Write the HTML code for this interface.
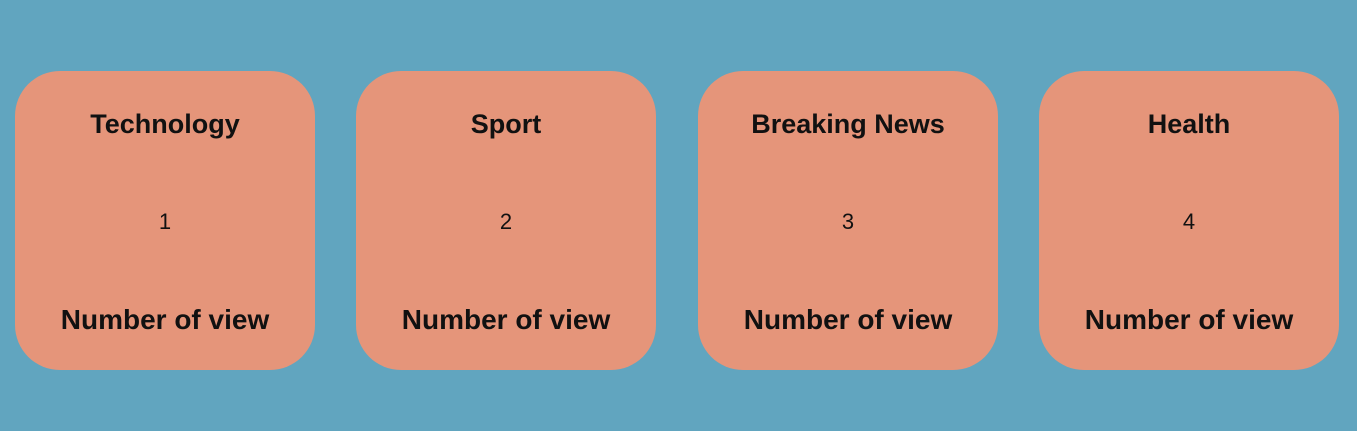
<!DOCTYPE html>
<html><head><meta charset="utf-8"><style>
html,body{margin:0;padding:0;width:1357px;height:431px;background:#61a5bf;overflow:hidden;font-family:"Liberation Sans",sans-serif;color:#111;}
.card{position:absolute;top:71px;width:300px;height:299px;background:#e5957a;border-radius:45px;text-align:center;}
.t{position:absolute;left:0;right:0;top:38px;font-weight:bold;font-size:27px;}
.n{position:absolute;left:0;right:0;top:138px;font-size:22px;}
.f{position:absolute;left:0;right:0;top:233px;font-weight:bold;font-size:28px;}
</style></head><body>
<div class="card" style="left:15px"><div class="t">Technology</div><div class="n">1</div><div class="f">Number of view</div></div>
<div class="card" style="left:356px"><div class="t">Sport</div><div class="n">2</div><div class="f">Number of view</div></div>
<div class="card" style="left:698px"><div class="t">Breaking News</div><div class="n">3</div><div class="f">Number of view</div></div>
<div class="card" style="left:1039px"><div class="t">Health</div><div class="n">4</div><div class="f">Number of view</div></div>
</body></html>
